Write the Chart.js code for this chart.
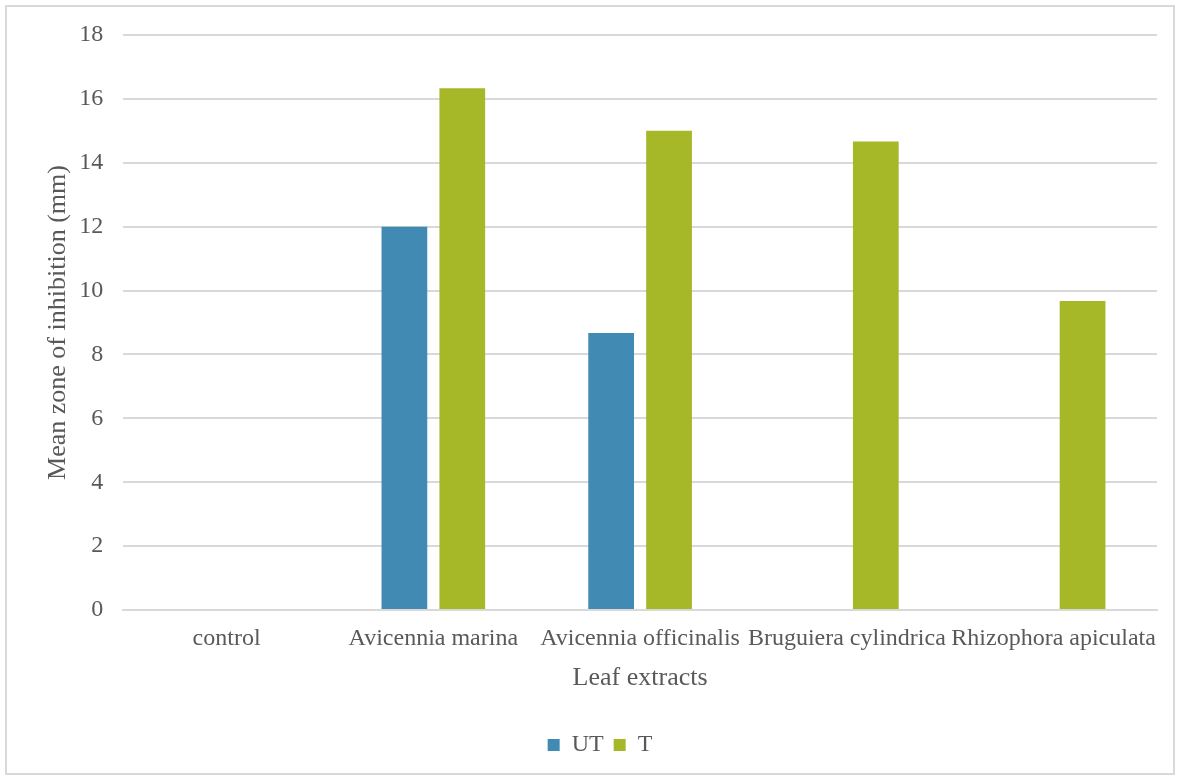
<!DOCTYPE html>
<html>
<head>
<meta charset="utf-8">
<script src="https://cdn.jsdelivr.net/npm/chart.js@4/dist/chart.umd.min.js"></script>
<style>
    html, body { margin: 0; padding: 0; background: #fff; }
    #frame {
        position: absolute;
        left: 5px;
        top: 5px;
        width: 1166px;
        height: 766px;
        border: 2px solid #d9d9d9;
    }
    #wrap { position: absolute; left: 0; top: 0; width: 1166px; height: 766px; }
</style>
</head>
<body>
<div id="frame"><div id="wrap"><canvas id="chart"></canvas></div></div>
<script>
(function () {
    'use strict';

    const categories = ['control', 'Avicennia marina', 'Avicennia officinalis', 'Bruguiera cylindrica', 'Rhizophora apiculata'];
    const untreated = [0, 12, 8.67, 0, 0];
    const treated = [0, 16.33, 15, 14.67, 9.67];
    const yTicks = [0, 2, 4, 6, 8, 10, 12, 14, 16, 18];

    const textColor = '#595959';
    const gridColor = '#d9d9d9';
    const serif = "'Liberation Serif', 'Times New Roman', serif";

    new Chart(document.getElementById('chart'), {
        type: 'bar',
        data: {
            labels: categories,
            datasets: [
                { label: 'UT', data: untreated, backgroundColor: '#418ab3' },
                { label: 'T', data: treated, backgroundColor: '#a6b727' }
            ]
        },
        options: {
            responsive: true,
            maintainAspectRatio: false,
            animation: false,
            categoryPercentage: 0.56,
            barPercentage: 0.79,
            layout: { padding: { top: 10, right: 16, left: 36, bottom: 6 } },
            plugins: {
                tooltip: { enabled: false },
                legend: {
                    position: 'bottom',
                    labels: {
                        color: textColor,
                        font: { family: serif, size: 24 },
                        boxWidth: 12,
                        boxHeight: 12,
                        padding: 10
                    }
                }
            },
            scales: {
                x: {
                    grid: { display: false },
                    border: { color: gridColor, width: 2 },
                    ticks: {
                        color: textColor,
                        font: { family: serif, size: 24 },
                        maxRotation: 0,
                        autoSkip: false,
                        padding: 6
                    },
                    title: {
                        display: true,
                        text: 'Leaf extracts',
                        color: textColor,
                        font: { family: serif, size: 26 },
                        padding: { top: 4, bottom: 29 }
                    }
                },
                y: {
                    min: 0,
                    max: 18,
                    afterBuildTicks: function (axis) {
                        axis.ticks = yTicks.map(function (v) { return { value: v }; });
                    },
                    // the wide tick padding would otherwise push the plot top down
                    afterFit: function (axis) {
                        axis.paddingTop = 28;
                        axis.paddingBottom = 0;
                    },
                    grid: { color: gridColor, lineWidth: 2, drawTicks: false },
                    border: { display: false },
                    ticks: {
                        color: textColor,
                        font: { family: serif, size: 24 },
                        padding: 20
                    },
                    title: {
                        display: true,
                        text: 'Mean zone of inhibition (mm)',
                        color: textColor,
                        font: { family: serif, size: 26 },
                        padding: { top: 0, bottom: -15 }
                    }
                }
            }
        }
    });
})();
</script>
</body>
</html>
